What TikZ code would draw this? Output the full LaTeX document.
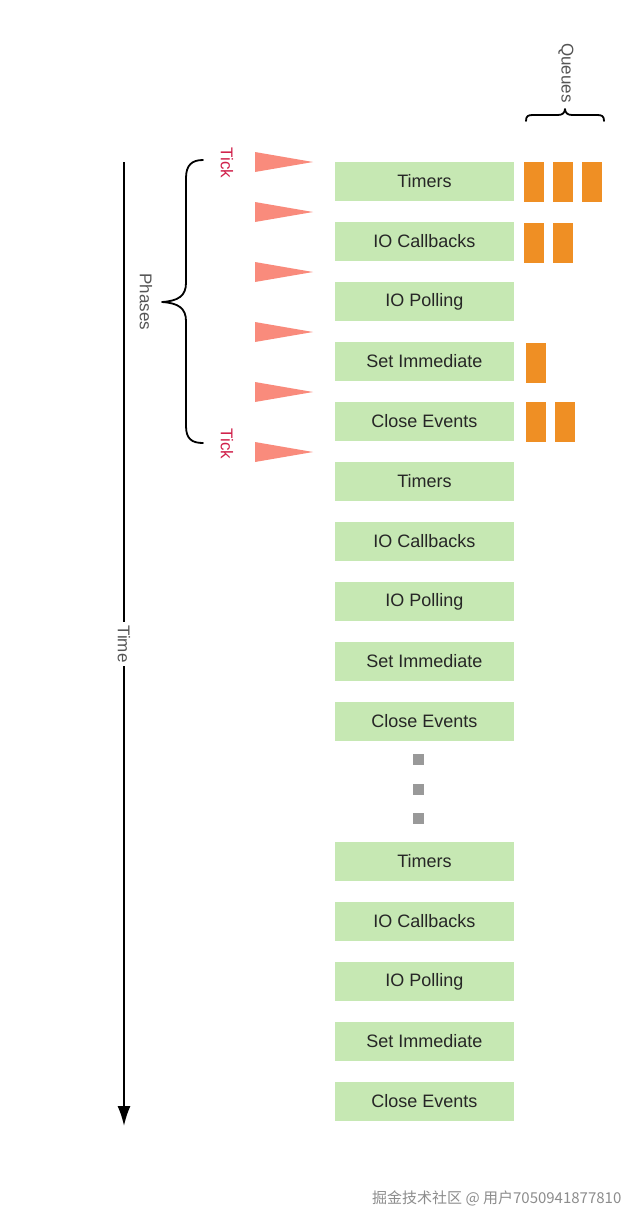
\documentclass[tikz,border=0pt]{standalone}
\usepackage{fontspec}
\usetikzlibrary{arrows.meta}
\setmainfont{Liberation Sans}
\newfontfamily\cjk{Noto Sans CJK SC}
\definecolor{phasegreen}{HTML}{C6E8B3}
\definecolor{queueorange}{HTML}{EF8F24}
\definecolor{tickred}{HTML}{D0204A}
\definecolor{trisalmon}{HTML}{F98B7C}
\definecolor{labelgray}{HTML}{555555}
\definecolor{textdark}{HTML}{262626}
\definecolor{dotgray}{HTML}{999999}
\begin{document}
\begin{tikzpicture}[x=1pt,y=-1pt,
  phase/.style={rectangle, fill=phasegreen, minimum width=179pt, minimum height=39pt, inner sep=0pt, text=textdark, font=\fontsize{18}{21}\selectfont},
  qitem/.style={rectangle, fill=queueorange, minimum width=19.5pt, minimum height=40pt, inner sep=0pt},
  tri/.style={fill=trisalmon},
  ticklbl/.style={text=tickred, rotate=-90, font=\fontsize{17}{20}\selectfont, inner sep=0pt},
  sidelbl/.style={text=labelgray, rotate=-90, font=\fontsize{17}{20}\selectfont, inner sep=1pt},
  dotsq/.style={rectangle, fill=dotgray, minimum size=11pt, inner sep=0pt},
  bracestyle/.style={line width=1.8pt, line cap=round, line join=round}
]
\useasboundingbox (0,0) rectangle (644,1227);

% Phase boxes
\foreach \name/\lbl/\y in {
  a1/Timers/181.5, a2/IO Callbacks/241.5, a3/IO Polling/301.5, a4/Set Immediate/361.5, a5/Close Events/421.5,
  b1/Timers/481.5, b2/IO Callbacks/541.5, b3/IO Polling/601.5, b4/Set Immediate/661.5, b5/Close Events/721.5,
  c1/Timers/861.5, c2/IO Callbacks/921.5, c3/IO Polling/981.5, c4/Set Immediate/1041.5, c5/Close Events/1101.5}
  \node[phase] (\name) at (424.5,\y) {\lbl};

% Dots
\node[dotsq] (d1) at (418,759) {};
\node[dotsq] (d2) at (418,789) {};
\node[dotsq] (d3) at (418,818) {};

% Queues
\node[qitem] (qt1) at (533.8,182) {};
\node[qitem] (qt2) at (562.8,182) {};
\node[qitem] (qt3) at (592,182) {};
\node[qitem] (qi1) at (533.8,242.5) {};
\node[qitem] (qi2) at (562.8,242.5) {};
\node[qitem] (qs1) at (536,362.5) {};
\node[qitem] (qc1) at (536,422) {};
\node[qitem] (qc2) at (565,422) {};

% Queues brace and label
\draw[bracestyle] (526,121) .. controls (526,116) and (528,115) .. (533,115) -- (558,115)
  .. controls (562,115) and (565,113) .. (565,109)
  .. controls (565,113) and (568,115) .. (572,115) -- (597,115)
  .. controls (602,115) and (604,116) .. (604,121);
\node[sidelbl] (queues) at (566,73) {Queues};

% Triangles
\foreach \y in {162,212,272,332,392,452}
  \fill[tri] (255,\y-10) -- (313,\y) -- (255,\y+10) -- cycle;

% Tick labels
\node[ticklbl] (tick1) at (227,163) {Tick};
\node[ticklbl] (tick2) at (227,444) {Tick};

% Phases brace and label
\draw[bracestyle] (203,160) .. controls (192,160) and (186,165) .. (186,178) -- (186,283)
  .. controls (186,296) and (178,301) .. (162,302)
  .. controls (178,303) and (186,308) .. (186,321) -- (186,426)
  .. controls (186,439) and (192,443) .. (203,443);
\node[sidelbl] (phases) at (146,302) {Phases};

% Time arrow
\coordinate (tstart) at (124,162);
\coordinate (tend) at (124,1126);
\draw[line width=1.8pt, -{Latex[length=20pt,width=13pt]}] (tstart) -- (tend);
\node[sidelbl, fill=white, inner sep=3pt] (time) at (124,644) {Time};

% Watermark
\node[text=gray!90, font={\cjk\fontsize{15}{18}\selectfont}, anchor=west, inner sep=0pt] (wm) at (372,1198) {掘金技术社区 @ 用户7050941877810};
\end{tikzpicture}
\end{document}
